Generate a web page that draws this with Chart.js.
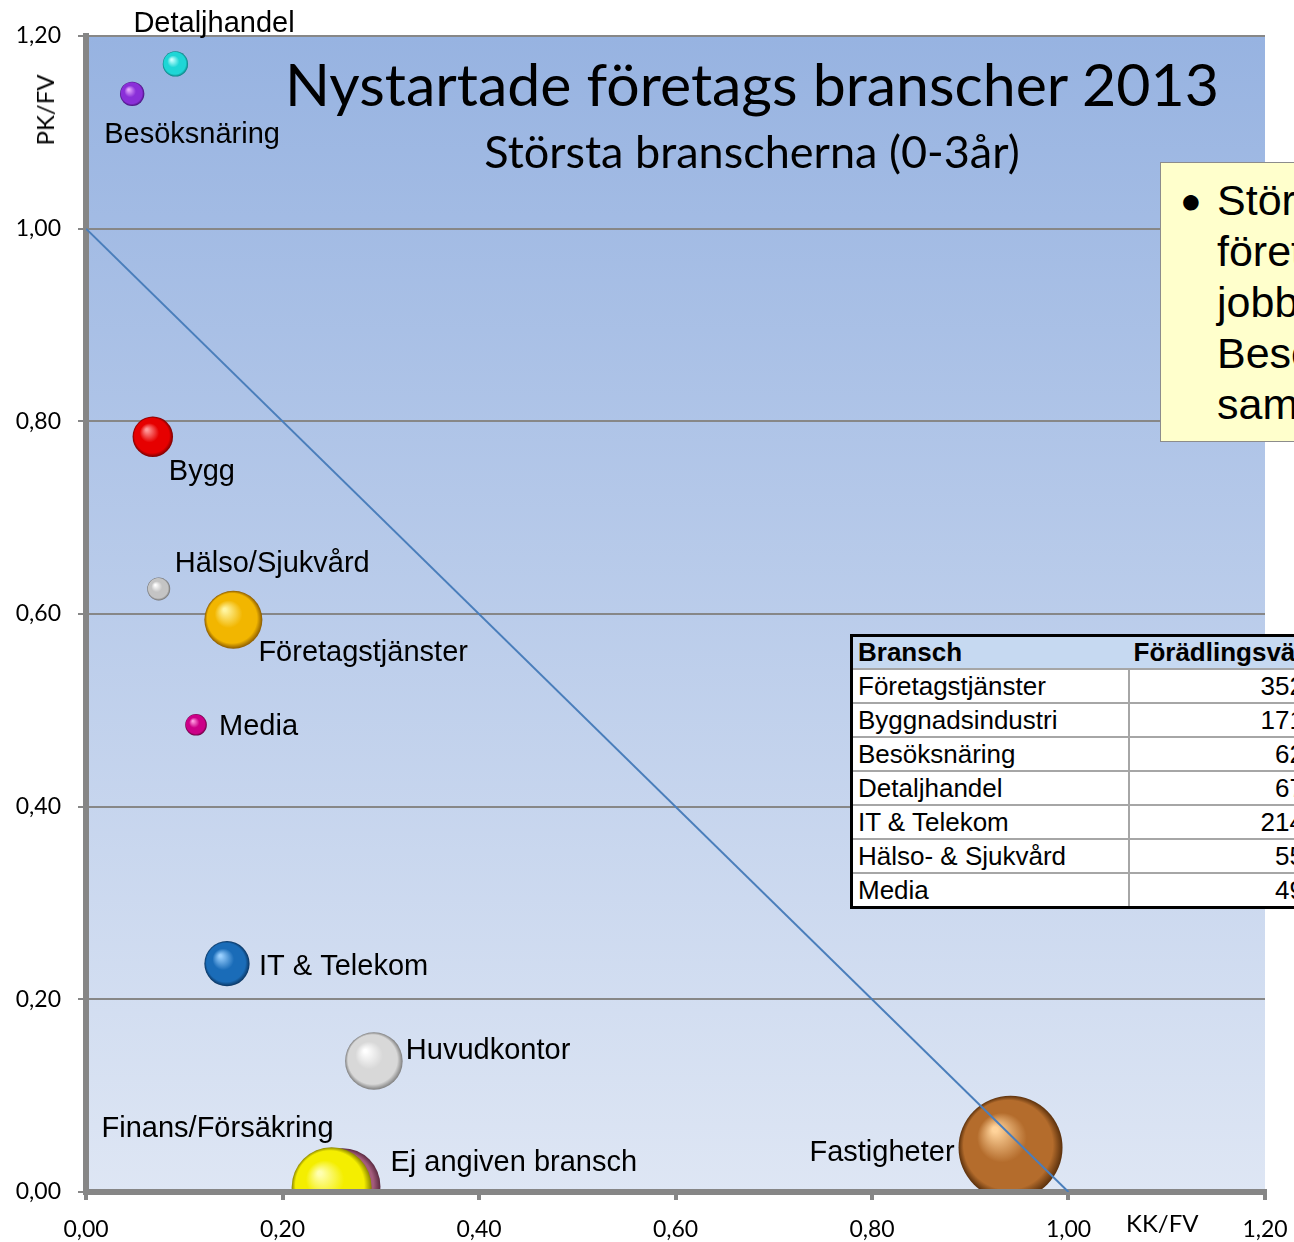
<!DOCTYPE html>
<html>
<head>
<meta charset="utf-8">
<script src="https://cdn.jsdelivr.net/npm/chart.js@4"></script>
<style>
  html, body { margin: 0; padding: 0; background: #fff; }
  body { width: 1294px; height: 1242px; overflow: hidden; position: relative; }
  #wrap { position: absolute; left: 0; top: 0; width: 1294px; height: 1242px; }
  .txt { position: absolute; white-space: nowrap; color: #000; }
  #title { left: 252px; width: 1000px; top: 54px; text-align: center; font: 59px/59px Lato, sans-serif; }
  #subtitle { left: 252px; width: 1000px; top: 129px; text-align: center; font: 45px/45px Lato, sans-serif; }
  #ytitle { left: 45px; top: 110px; font: 24px/24px Lato, sans-serif; transform: translate(-50%, -50%) rotate(-90deg); }
  #xtitle { left: 1126px; top: 1211px; font: 24px/24px Lato, sans-serif; }
  #note { position: absolute; left: 1160px; top: 162px; width: 220px; height: 278px; background: #ffffcc; border: 1px solid #8c8c8c; font: 43px/51px "Liberation Sans", Arial, sans-serif; }
  #note .bullet { position: absolute; left: 19px; top: 12px; font-size: 36px; }
  #note .lines { position: absolute; left: 56px; top: 12px; white-space: nowrap; }
  #tbl { position: absolute; left: 850px; top: 634px; width: 459px; border-collapse: collapse; table-layout: fixed; border: 3px solid #000; font: 26px "Liberation Sans", Arial, sans-serif; background: #fff; }
  #tbl td, #tbl th { padding: 0 5px; white-space: nowrap; overflow: visible; }
  #tbl th { background: #c6d9f1; height: 31px; text-align: left; font-weight: bold; }
  #tbl td { height: 32px; border-top: 2px solid #a6a6a6; }
  #tbl td.v { border-left: 2px solid #a6a6a6; text-align: right; }
</style>
</head>
<body>
<div id="wrap"><canvas id="bubbleChart"></canvas></div>
<div class="txt" id="title">Nystartade företags branscher 2013</div>
<div class="txt" id="subtitle">Största branscherna (0-3år)</div>
<div class="txt" id="ytitle">PK/FV</div>
<div class="txt" id="xtitle">KK/FV</div>
<div id="note"><span class="bullet">●</span><div class="lines">Största<br>företagen ger<br>jobb inom<br>Besöksnäring<br>samt</div></div>
<table id="tbl"><colgroup><col style="width:277px"><col style="width:182px"></colgroup><tbody id="tblBody"></tbody></table>
<script>
// bubbles
const branscher = ['Detaljhandel', 'Besöksnäring', 'Bygg', 'Hälso/Sjukvård', 'Företagstjänster', 'Media',
    'IT & Telekom', 'Huvudkontor', 'Ej angiven bransch', 'Finans/Försäkring', 'Fastigheter'];
const kkFv = [0.091, 0.047, 0.068, 0.074, 0.150, 0.112, 0.1435, 0.293, 0.261, 0.250, 0.941];
const pkFv = [1.171, 1.140, 0.784, 0.626, 0.594, 0.485, 0.237, 0.136, 0.006, 0.005, 0.046];
const foradling = [67, 62, 171, 55, 352, 49, 214, 347, 604, 669, 1131];

// table on the right
const tabellBransch = ['Företagstjänster', 'Byggnadsindustri', 'Besöksnäring', 'Detaljhandel', 'IT & Telekom', 'Hälso- & Sjukvård', 'Media'];
const tabellVarde = [352, 171, 62, 67, 214, 55, 49];

const yTicks = [0, 0.2, 0.4, 0.6, 0.8, 1.0, 1.2];

// sphere colours: [highlight, base, shade]
const sphereColors = [
    ['#c8ffff', '#1ed6d6', '#0a7f80'],
    ['#e6a8ff', '#8a2fd8', '#45107a'],
    ['#ff9a9a', '#e60000', '#7a0000'],
    ['#ffffff', '#c4c4c4', '#6e6e6e'],
    ['#fff5a0', '#f2b600', '#8a5a00'],
    ['#ff9ae0', '#cc0088', '#66003f'],
    ['#9ad0ff', '#1a6cb8', '#0a3460'],
    ['#ffffff', '#d8d8d8', '#7e7e7e'],
    ['#e8b8cc', '#a45c7c', '#5a2a40'],
    ['#ffffb0', '#f4ee00', '#8a8400'],
    ['#ffd39a', '#b46c2c', '#5a300c']
];
// label placement relative to the bubble centre: [dx, dy, align]
const labelPlace = [
    [-42, -40, 'left'], [-28, 41, 'left'], [16, 35, 'left'], [16, -25, 'left'], [25, 33, 'left'],
    [23, 2, 'left'], [32, 3, 'left'], [32, -10, 'left'], [48, -23, 'left'], [2, -58, 'right'], [-56, 5, 'right']
];

const body = document.getElementById('tblBody');
let html = '<tr><th>Bransch</th><th>Förädlingsvärde</th></tr>';
tabellBransch.forEach((b, i) => {
    html += '<tr><td>' + b + '</td><td class="v">' + tabellVarde[i] + '</td></tr>';
});
body.innerHTML = html;

const bubbleData = branscher.map((b, i) => ({ x: kkFv[i], y: pkFv[i], r: 1.546 * Math.sqrt(foradling[i]) }));

const plotBg = {
    id: 'plotBg',
    beforeDraw(chart) {
        const { ctx, chartArea: a } = chart;
        const g = ctx.createLinearGradient(0, a.top, 0, a.bottom);
        g.addColorStop(0, '#97b3e1');
        g.addColorStop(1, '#dee6f4');
        ctx.save();
        ctx.fillStyle = g;
        ctx.fillRect(a.left, a.top, a.right - a.left, a.bottom - a.top);
        ctx.restore();
    }
};

const bubbleLabels = {
    id: 'bubbleLabels',
    afterDatasetsDraw(chart) {
        const meta = chart.getDatasetMeta(1);
        const ctx = chart.ctx;
        ctx.save();
        ctx.font = '29px "Liberation Sans", Arial, sans-serif';
        ctx.fillStyle = '#000';
        ctx.textBaseline = 'middle';
        meta.data.forEach((el, i) => {
            const p = labelPlace[i];
            ctx.textAlign = p[2];
            ctx.fillText(branscher[i], el.x + p[0], el.y + p[1]);
        });
        ctx.restore();
    }
};

function sphere(context) {
    const i = context.dataIndex;
    const c = sphereColors[i];
    const chart = context.chart;
    if (context.type !== 'data' || !chart.chartArea) return c[1];
    const d = context.raw;
    const cx = chart.scales.x.getPixelForValue(d.x);
    const cy = chart.scales.y.getPixelForValue(d.y);
    const r = d.r;
    const g = chart.ctx.createRadialGradient(cx - r * 0.3, cy - r * 0.35, r * 0.05, cx, cy, r);
    g.addColorStop(0, c[0]);
    g.addColorStop(0.45, c[1]);
    g.addColorStop(0.85, c[1]);
    g.addColorStop(1, c[2]);
    return g;
}

const fmt = v => v.toFixed(2).replace('.', ',');

new Chart(document.getElementById('bubbleChart'), {
    type: 'bubble',
    data: {
        datasets: [{
            type: 'line',
            data: [{ x: 0, y: 1 }, { x: 1, y: 0 }],
            borderColor: '#4a7ebb',
            borderWidth: 2,
            pointRadius: 0,
            fill: false,
            order: 0
        }, {
            data: bubbleData,
            backgroundColor: sphere,
            borderWidth: 0,
            clip: { left: 0, top: 0, right: 0, bottom: -3 },
            order: 1
        }]
    },
    options: {
        responsive: true,
        maintainAspectRatio: false,
        animation: false,
        events: [],
        layout: { autoPadding: false, padding: { top: 36, right: 29, left: 0, bottom: 0 } },
        plugins: { legend: { display: false }, tooltip: { enabled: false } },
        scales: {
            x: {
                type: 'linear', min: 0, max: 1.2,
                afterFit: s => { s.height = 50; s.paddingLeft = 0; s.paddingRight = 0; },
                ticks: { stepSize: 0.2, padding: 16, color: '#000', font: { family: 'Lato', size: 23 }, callback: fmt },
                grid: { drawOnChartArea: false, tickLength: 8, color: '#868686', lineWidth: 4 },
                border: { color: '#868686', width: 6 }
            },
            y: {
                type: 'linear', min: 0, max: 1.2,
                afterFit: s => { s.width = 86; s.paddingTop = 0; s.paddingBottom = 0; },
                afterBuildTicks: s => { s.ticks = yTicks.map(v => ({ value: v })); },
                ticks: { padding: 17, color: '#000', font: { family: 'Lato', size: 23 }, callback: fmt },
                grid: { tickLength: 8, color: '#878787', lineWidth: 2 },
                border: { color: '#868686', width: 6 }
            }
        }
    },
    plugins: [plotBg, bubbleLabels]
});
</script>
</body>
</html>
